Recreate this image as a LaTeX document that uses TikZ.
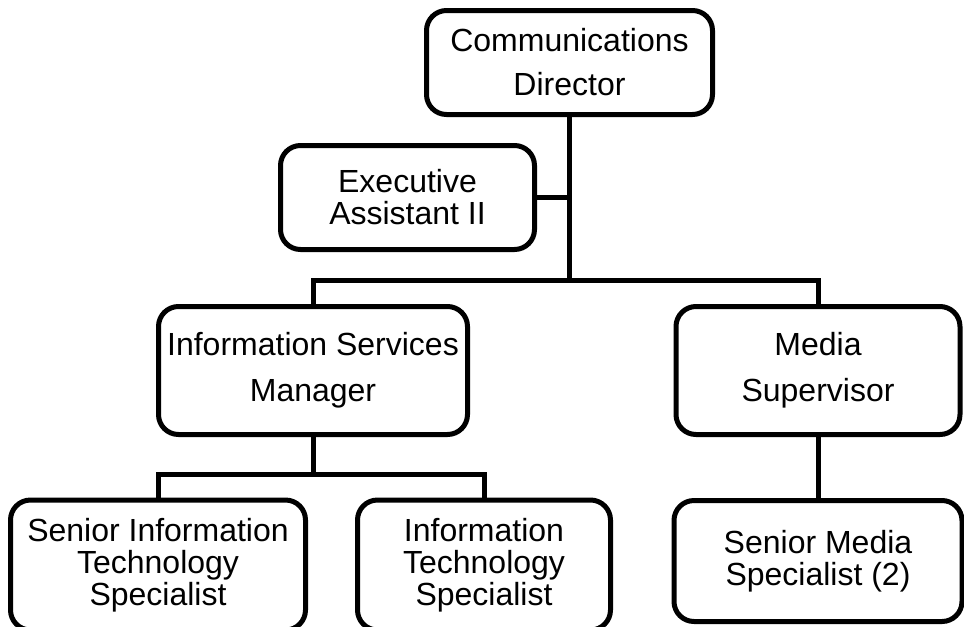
\documentclass[tikz,border=0pt]{standalone}
\usepackage{fontspec}
\setmainfont{Liberation Sans}
\usetikzlibrary{positioning}
\tikzset{post/.style={draw,line width=3.75pt,rounded corners=15pt,align=center,inner sep=0pt,font=\fontsize{24}{24}\selectfont}}
\tikzset{link/.style={draw,line width=3.75pt}}
\tikzset{x=0.75pt,y=-0.75pt}

\begin{document}
\begin{tikzpicture}
    \useasboundingbox (0,0) rectangle (964,626);
    \begin{scope}
        \node (CD) [post,minimum width=214.5pt,minimum height=78pt,font=\fontsize{24}{33}\selectfont] at (569.5,62.5) {Communications\\Director};
        \node (EA) [post,minimum width=190.5pt,minimum height=78pt] at (407.5,197.5) {Executive\\Assistant II};
        \node (ISM) [post,minimum width=231.75pt,minimum height=96pt,font=\fontsize{24}{34.5}\selectfont] at (313,370.5) {Information Services\\Manager};
        \node (MS) [post,minimum width=213pt,minimum height=96pt,font=\fontsize{24}{34.5}\selectfont] at (818,370.5) {Media\\Supervisor};

        \node (SITS) [post,minimum width=221.25pt,minimum height=97.5pt] at (158,565) {Senior Information\\Technology\\Specialist};
        \node (ITS) [post,minimum width=189.75pt,minimum height=97.5pt] at (484,565) {Information\\Technology\\Specialist};
        \node (SMS) [post,minimum width=216pt,minimum height=90.75pt] at (818,561) {Senior Media\\Specialist (2)};

        \coordinate (J1) at (569.5,280.5);
        \coordinate (J2) at (313,474.5);

        \draw [link] (CD.south) -- (J1);
        \draw [link] (EA.east) -- (EA.east -| J1);
        \draw [link] (ISM.north) |- (J1) -| (MS.north);

        \draw [link] (ISM.south) -- (J2);
        \draw [link] (SITS.north) |- (J2) -| (ITS.north);
        \draw [link] (MS.south) -- (SMS.north);
    \end{scope}
\end{tikzpicture}
\end{document}
